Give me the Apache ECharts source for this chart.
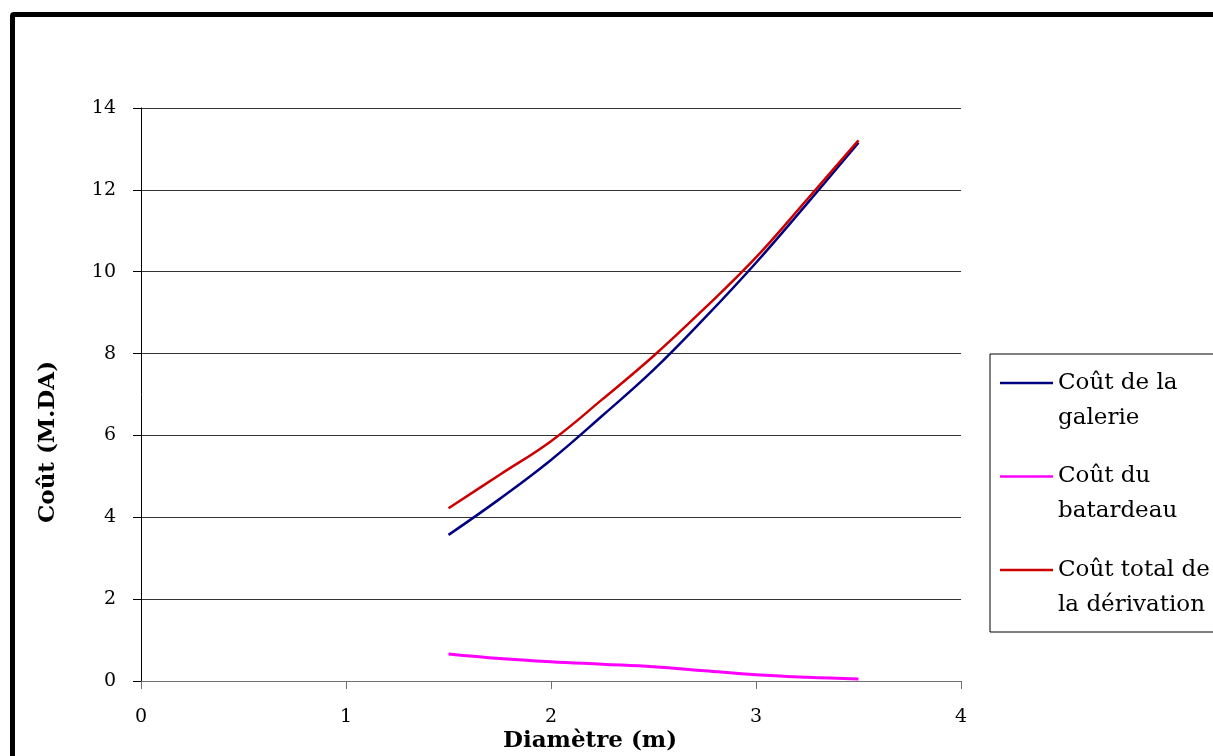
<!DOCTYPE html>
<html>
<head>
<meta charset="utf-8">
<script src="https://cdn.jsdelivr.net/npm/echarts@6/dist/echarts.min.js"></script>
<style>
    html, body { margin: 0; padding: 0; background: #fff; overflow: hidden; }
    #chart { position: absolute; left: 0; top: 0; width: 1213px; height: 756px; }
    /* cadre noir qui sort de l'image en bas et à droite */
    #frame { position: absolute; left: 10px; top: 12px; width: 1400px; height: 1000px;
             border: 5px solid #000; border-top-left-radius: 4px; pointer-events: none; }
</style>
</head>
<body>
<div id="chart"></div>
<div id="frame"></div>
<script>
// diamètre (m)
const diametres = [1.5, 1.75, 2, 2.25, 2.5, 2.75, 3, 3.25, 3.5]
// coûts (M.DA)
const coutGalerie = [3.57, 4.45, 5.4, 6.48, 7.6, 8.87, 10.22, 11.67, 13.15]
const coutBatardeau = [0.66, 0.55, 0.47, 0.41, 0.35, 0.25, 0.15, 0.09, 0.05]
const coutTotal = [4.22, 5.04, 5.86, 6.88, 7.94, 9.11, 10.35, 11.77, 13.21]

const nomsSeries = ['Coût de la galerie', 'Coût du batardeau', 'Coût total de la dérivation']
const legendeLignes = [['Coût de la', 'galerie'], ['Coût du', 'batardeau'], ['Coût total de', 'la dérivation']]
const couleurs = ['#000080', '#ff00ff', '#cc0000']

const police = 'DejaVu Serif'

function paires(ys) {
    return diametres.map((x, i) => [x, ys[i]])
}

const myChart = echarts.init(document.getElementById('chart'), null, { renderer: 'canvas' })

myChart.setOption({
    animation: false,
    grid: { left: 141, top: 108, right: 252, bottom: 75, containLabel: false },
    xAxis: {
        type: 'value',
        min: 0,
        max: 4,
        interval: 1,
        axisLine: { lineStyle: { color: '#707070', width: 1 } },
        axisTick: { show: true, inside: false, length: 8, lineStyle: { color: '#707070' } },
        axisLabel: { margin: 27, color: '#000', fontFamily: police, fontSize: 19 },
        splitLine: { show: false }
    },
    yAxis: {
        type: 'value',
        min: 0,
        max: 14,
        interval: 2,
        axisLine: { show: true, lineStyle: { color: '#000', width: 1 } },
        axisTick: { show: true, inside: false, length: 8, lineStyle: { color: '#000' } },
        axisLabel: { margin: 25, color: '#000', fontFamily: police, fontSize: 19 },
        splitLine: { show: true, lineStyle: { color: '#333', width: 1 } }
    },
    legend: {
        orient: 'vertical',
        left: 990,
        top: 354,
        // haut négatif : chaque libellé porte une ligne vide au-dessus
        padding: [-23.5, 60, 9.5, 10],
        itemGap: -11.5,
        icon: 'rect',
        itemWidth: 53,
        itemHeight: 2.5,
        borderColor: '#000',
        borderWidth: 1,
        data: nomsSeries,
        formatter: name => '\n' + legendeLignes[nomsSeries.indexOf(name)].join('\n'),
        textStyle: { fontFamily: police, fontSize: 23, lineHeight: 35, color: '#000' }
    },
    graphic: [
        {
            type: 'text',
            x: 48,
            y: 442,
            rotation: Math.PI / 2,
            style: {
                text: 'Coût (M.DA)',
                font: 'bold 23px "DejaVu Serif"',
                fill: '#000',
                align: 'center',
                verticalAlign: 'middle'
            }
        },
        {
            type: 'text',
            x: 590,
            y: 741,
            style: {
                text: 'Diamètre (m)',
                font: 'bold 23px "DejaVu Serif"',
                fill: '#000',
                align: 'center',
                verticalAlign: 'middle'
            }
        }
    ],
    series: [
        {
            name: nomsSeries[0],
            type: 'line',
            smooth: 0.4,
            symbol: 'none',
            lineStyle: { color: couleurs[0], width: 2.5 },
            itemStyle: { color: couleurs[0] },
            data: paires(coutGalerie)
        },
        {
            name: nomsSeries[1],
            type: 'line',
            smooth: 0.4,
            symbol: 'none',
            lineStyle: { color: couleurs[1], width: 3 },
            itemStyle: { color: couleurs[1] },
            data: paires(coutBatardeau)
        },
        {
            name: nomsSeries[2],
            type: 'line',
            smooth: 0.4,
            symbol: 'none',
            lineStyle: { color: couleurs[2], width: 2.5 },
            itemStyle: { color: couleurs[2] },
            data: paires(coutTotal)
        }
    ]
})
</script>
</body>
</html>
